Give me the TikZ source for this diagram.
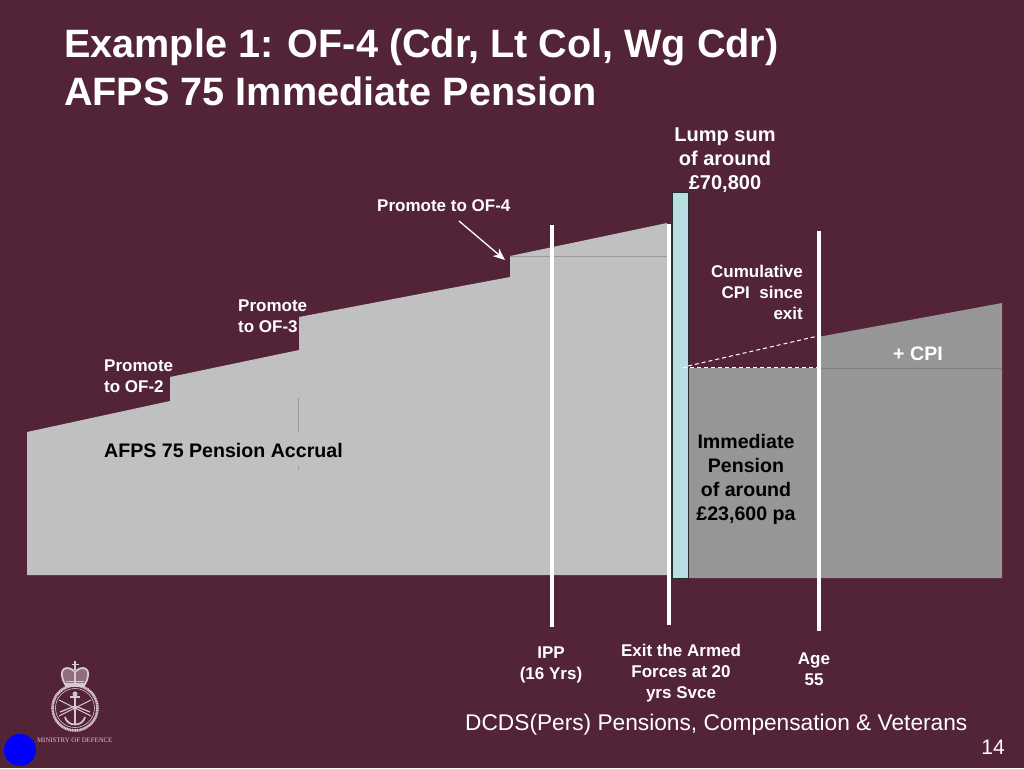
\documentclass[tikz,border=0pt]{standalone}
\usepackage{fontspec}
\setmainfont{Liberation Sans}
\newfontfamily\crestfont{Liberation Serif}
\usetikzlibrary{arrows.meta}
\definecolor{bgc}{HTML}{532337}
\definecolor{lgrey}{HTML}{C0C0C0}
\definecolor{dgrey}{HTML}{969696}
\definecolor{lcyan}{HTML}{B8DFE4}
\definecolor{crest}{HTML}{D8C8D0}
\tikzset{
  title/.style={anchor=base west,text=white,font=\fontsize{39.6}{40}\selectfont\bfseries,inner sep=0pt},
  lab/.style={text=white,font=\fontsize{17}{21}\selectfont\bfseries,inner sep=0pt,align=center},
  lableft/.style={lab,align=left,anchor=north west},
  labright/.style={lab,align=right,anchor=north east},
  blk/.style={text=black,font=\fontsize{19.6}{24}\selectfont\bfseries,inner sep=0pt,align=center},
  bar/.style={draw=white,line width=4pt},
  dash line/.style={draw=white,line width=1pt,dash pattern=on 4pt off 3pt},
  thin seam/.style={draw=black!20!lgrey,line width=0.6pt},
  crest line/.style={draw=crest,line width=1pt}
}
\begin{document}
\begin{tikzpicture}[x=1pt,y=-1pt]
\useasboundingbox (0,0) rectangle (1024,768);
\fill[bgc] (0,0) rectangle (1024,768);
\node[title] (t1) at (64,58) {Example 1: OF-4 (Cdr, Lt Col, Wg Cdr)};
\node[title] (t2) at (64,105) {AFPS 75 Immediate Pension};
% accrual
\fill[lgrey] (27,432) -- (170,401) -- (170,377) -- (299,350) -- (299,317) -- (430,292) -- (510,277) -- (510,256) -- (667,223) -- (667,575) -- (27,575) -- cycle;
\draw[thin seam] (510,256) -- (667,256);
\draw[thin seam] (298.5,398) -- (298.5,432);
\draw[thin seam] (298.5,466) -- (298.5,470);
% immediate pension
\fill[dgrey] (688,368) -- (818,368) -- (818,337) -- (1002,303) -- (1002,578) -- (688,578) -- cycle;
\draw[draw=black!15!dgrey,line width=0.5pt] (820,368) -- (1002,368);
% bars
\draw[bar] (552,225) -- (552,627);
\draw[bar] (669,224) -- (669,625);
\draw[bar] (818.5,231) -- (818.5,631);
\node[draw=black!80!lcyan,fill=lcyan,line width=0.8pt,minimum width=15.5pt,minimum height=386pt,inner sep=0pt] (lump) at (680.5,385) {};
% dashes
\coordinate (d0) at (683,367.5);
\coordinate (d1) at (818,367.5);
\coordinate (d2) at (688,366);
\coordinate (d3) at (818,336);
\draw[dash line] (d0) -- (d1);
\draw[dash line] (d2) -- (d3);
% labels
\node[lab,font=\fontsize{20}{24}\selectfont\bfseries] (lsum) at (725,160) {Lump sum\\of around\\£70,800};
\node[lab,anchor=north west] (prom4) at (377,199) {Promote to OF-4};
\coordinate (arrow end) at (505,260);
\draw[draw=white,line width=1.3pt,-{Stealth[length=12pt,width=10pt]}] (459,221) -- (arrow end);
\node[lableft] (prom3) at (238,299.5) {Promote\\to OF-3};
\node[lableft] (prom2) at (104,359.5) {Promote\\to OF-2};
\node[labright] (cum) at (803,264.5) {Cumulative\\CPI~~since\\exit};
\node[blk,anchor=north west] (acc) at (104,443) {AFPS 75 Pension Accrual};
\node[blk,text=white,anchor=center] (cpi) at (918,353.5) {+ CPI};
\node[blk] (imm) at (746,479) {Immediate\\Pension\\of around\\£23,600 pa};
\node[lab] (ipp) at (551,664.5) {IPP\\(16 Yrs)};
\node[lab] (exit) at (681,673) {Exit the Armed\\Forces at 20\\yrs Svce};
\node[lab] (age) at (814,669) {Age\\55};
\node[text=white,font=\fontsize{22.7}{24}\selectfont,anchor=west,inner sep=0pt] (dcds) at (465,724.5) {DCDS(Pers) Pensions, Compensation \& Veterans};
\node[text=white,font=\fontsize{21}{24}\selectfont,anchor=east,inner sep=0pt] (pg) at (1005,747) {14};
% crest
\draw[crest line,line width=2.6pt,dash pattern=on 1.2pt off 0.5pt] (75,708) circle (22.5);
\draw[crest line,line width=0.6pt] (75,708) circle (19.5);
% crown
\draw[crest line,fill=crest!45!bgc,line width=1.8pt] (65,684) .. controls (56,668) and (68,664) .. (75,672) .. controls (82,664) and (94,668) .. (85,684) -- cycle;
\draw[crest line,line width=1.4pt] (75,672) -- (75,684);
\draw[crest line,line width=2.6pt] (65,686) -- (85,686);
\draw[crest line,line width=2pt] (75,661) -- (75,670);
\draw[crest line,line width=1.6pt] (71.5,664.5) -- (78.5,664.5);
\draw[crest line,line width=0.7pt] (66,681) -- (84,681);
% anchor
\draw[crest line,line width=1.4pt] (75,692) -- (75,725);
\draw[crest line,line width=1.2pt] (70,697) -- (80,697);
\draw[crest line] (75,694) circle (2);
\draw[crest line,line width=1.7pt] (65,717) .. controls (67,727) and (83,727) .. (85,717);
% swords
\draw[crest line] (59,700) -- (91,716);
\draw[crest line] (91,700) -- (59,716);
% wings
\draw[crest line,line width=1.2pt] (60,712) -- (75,706) -- (90,712);
\node[text=crest,font=\crestfont\fontsize{6.8}{7}\selectfont,anchor=west,inner sep=0pt] (mod) at (37,740) {MINISTRY OF DEFENCE};
\node[circle,fill={rgb,255:red,0;green,0;blue,255},minimum size=32pt,inner sep=0pt] (dot) at (20,750) {};
\end{tikzpicture}
\end{document}
